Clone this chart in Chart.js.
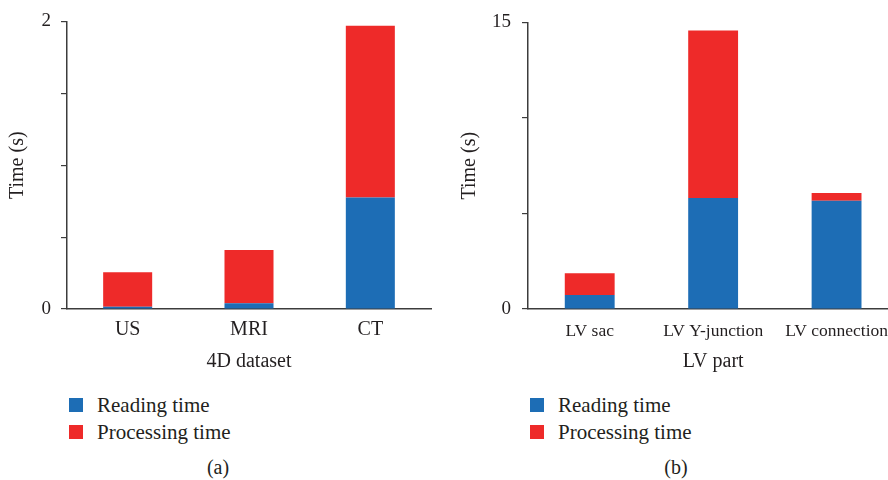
<!DOCTYPE html>
<html>
<head>
<meta charset="utf-8">
<script src="https://cdn.jsdelivr.net/npm/chart.js@4.4.1/dist/chart.umd.min.js"></script>
<style>
  html, body { margin: 0; padding: 0; background: #fff; overflow: hidden; }
  #wrap { position: relative; width: 888px; height: 480px; overflow: hidden; font-family: "Liberation Serif", "DejaVu Serif", serif; color: #231f20; }
  #chartA { position: absolute; left: 0; top: 0; }
  #chartB { position: absolute; left: 444px; top: 0; }
  .leg { position: absolute; font-size: 21px; line-height: 27px; white-space: nowrap; }
  .leg div { height: 27px; position: relative; padding-left: 28px; }
  .leg span { position: absolute; left: 0; top: 6px; width: 14px; height: 14px; }
  .cap { position: absolute; top: 456px; font-size: 20px; width: 60px; text-align: center; }
</style>
</head>
<body>
<div id="wrap">
  <canvas id="chartA" width="444" height="380"></canvas>
  <canvas id="chartB" width="456" height="380"></canvas>
  <div class="leg" id="legA" style="left:69px; top:392px;"></div>
  <div class="leg" id="legB" style="left:530px; top:392px;"></div>
  <div class="cap" style="left:188px;">(a)</div>
  <div class="cap" style="left:646px;">(b)</div>
</div>
<script>
// (a) 4D dataset
var groupsA = ['US', 'MRI', 'CT'];
var readingA = [0.015, 0.04, 0.775];
var processingA = [0.24, 0.37, 1.195];
var yLabelsA = [0, 2];

// (b) LV part
var partsB = ['LV sac', 'LV Y-junction', 'LV connection'];
var readingB = [0.73, 5.81, 5.67];
var processingB = [1.14, 8.77, 0.40];
var yLabelsB = [0, 15];

var seriesNames = ['Reading time', 'Processing time'];
var blue = '#1d6db5';
var red = '#ee2a29';
var ink = '#231f20';
var axisColor = '#3c3c3c';
var serif = '"Liberation Serif", "DejaVu Serif", serif';

Chart.defaults.font.family = serif;
Chart.defaults.color = ink;

function makeChart(id, labels, reading, processing, yMax, yStep, yLabels, opts){
    var ctx = document.getElementById(id).getContext('2d');
    return new Chart(ctx, {
        type: 'bar',
        data: {
            labels: labels,
            datasets: [{
                label: seriesNames[0],
                data: reading,
                backgroundColor: blue,
                barPercentage: 0.404,
                categoryPercentage: 1
            }, {
                label: seriesNames[1],
                data: processing,
                backgroundColor: red,
                barPercentage: 0.404,
                categoryPercentage: 1
            }]
        },
        options: {
            responsive: false,
            animation: false,
            layout: { padding: { top: 20, right: opts.padRight, bottom: 0, left: 0 } },
            plugins: { legend: { display: false }, tooltip: { enabled: false } },
            scales: {
                x: {
                    stacked: true,
                    z: 1,
                    grid: { display: false, drawTicks: false },
                    border: { display: true, color: axisColor, width: 1.5 },
                    ticks: { font: { size: opts.xTickSize }, padding: opts.xTickPad, maxRotation: 0, minRotation: 0, autoSkip: false, color: ink },
                    title: { display: true, text: opts.xTitle, font: { size: 20, lineHeight: 1.2 }, padding: { top: 0, bottom: opts.xTitlePad }, color: ink },
                    afterFit: function(scale){ scale.height = 71; }
                },
                y: {
                    stacked: true,
                    z: 1,
                    min: 0,
                    max: yMax,
                    grid: { drawOnChartArea: false, drawTicks: true, tickLength: 6, color: axisColor, lineWidth: 1.2 },
                    border: { display: true, color: axisColor, width: 1.5 },
                    ticks: {
                        stepSize: yStep,
                        padding: opts.yTickPad,
                        font: { size: 19 },
                        color: ink,
                        callback: function(value){ return yLabels.indexOf(value) >= 0 ? value : ''; }
                    },
                    title: { display: true, text: 'Time (s)', font: { size: 20, lineHeight: 1.2 }, padding: { top: opts.yTitlePad, bottom: 0 }, color: ink },
                    afterFit: function(scale){ scale.width = opts.yWidth; }
                }
            }
        }
    });
}

function makeLegend(id){
    var el = document.getElementById(id);
    [blue, red].forEach(function(c, i){
        var row = document.createElement('div');
        var sw = document.createElement('span');
        sw.style.background = c;
        row.appendChild(sw);
        row.appendChild(document.createTextNode(seriesNames[i]));
        el.appendChild(row);
    });
}

makeChart('chartA', groupsA, readingA, processingA, 2, 0.5, yLabelsA,
    { xTitle: '4D dataset', xTickSize: 20, xTickPad: 9, xTitlePad: 6, yTickPad: 10, yTitlePad: 6, yWidth: 67, padRight: 13 });
makeChart('chartB', partsB, readingB, processingB, 15, 5, yLabelsB,
    { xTitle: 'LV part', xTickSize: 17.5, xTickPad: 12, xTitlePad: 6, yTickPad: 11, yTitlePad: 14, yWidth: 84, padRight: 0 });
makeLegend('legA');
makeLegend('legB');
</script>
</body>
</html>
